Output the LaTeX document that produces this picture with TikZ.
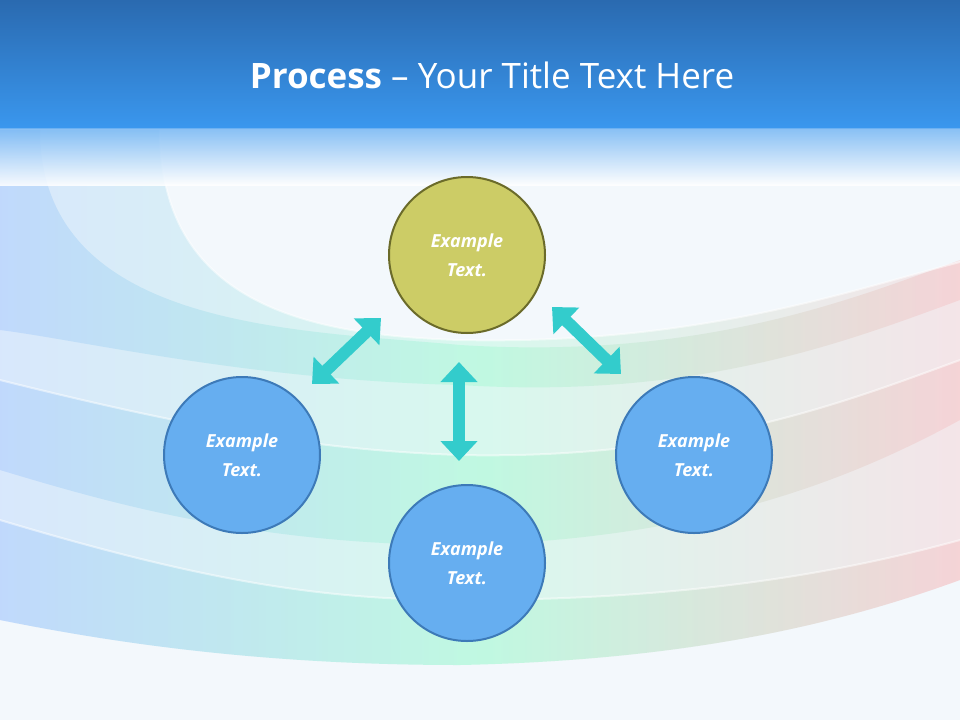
\documentclass[tikz,border=0pt]{standalone}
\usepackage{fontspec}
\setmainfont{Open Sans}
\usetikzlibrary{arrows.meta}
\definecolor{bar1}{HTML}{2A6AB0}
\definecolor{bar2}{HTML}{3A97EE}
\definecolor{bgc}{HTML}{F3F8FC}
\definecolor{olivef}{HTML}{CCCC66}
\definecolor{olived}{HTML}{6B6B2A}
\definecolor{bluef}{HTML}{66AEF0}
\definecolor{blued}{HTML}{3D7AB8}
\definecolor{teal}{HTML}{33CCCC}
\begin{document}
\begin{tikzpicture}[x=1pt,y=-1pt,
  circ/.style={circle,minimum size=156pt,line width=2pt,text=white,font=\bfseries\itshape\fontsize{18}{29}\selectfont,align=center},
  blue/.style={circ,fill=bluef,draw=blued},
  dbl/.style={draw=teal,line width=12pt,{Triangle[width=36pt,length=20pt]}-{Triangle[width=36pt,length=20pt]}},
  band/.style={left color=blue!60!cyan,right color=red!70,middle color=green!50!cyan,opacity=0.11},
  edge/.style={white,opacity=0.5,line width=2pt}]
\useasboundingbox (0,0) rectangle (960,720);
\fill[bgc] (0,0) rectangle (960,720);
% bands
\shade[band] (40,130) .. controls (40,330) and (300,330) .. (460,345) .. controls (700,360) and (850,300) .. (960,260)
 -- (960,420) .. controls (850,480) and (700,540) .. (460,545) .. controls (250,545) and (100,500) .. (0,470) -- (0,130) -- cycle;
\shade[band] (160,130) .. controls (160,300) and (300,335) .. (460,340) .. controls (700,345) and (850,290) .. (960,262)
 -- (960,300) .. controls (850,340) and (700,400) .. (460,385) .. controls (250,380) and (80,340) .. (0,330) -- (0,130) -- cycle;
\shade[band] (0,380) .. controls (200,430) and (320,450) .. (460,455) .. controls (700,460) and (850,400) .. (960,360)
 -- (960,580) .. controls (850,620) and (700,660) .. (460,665) .. controls (250,665) and (100,640) .. (0,620) -- cycle;
\shade[band] (0,520) .. controls (200,580) and (320,600) .. (460,600) .. controls (700,600) and (850,570) .. (960,540)
 -- (960,580) .. controls (850,620) and (700,660) .. (460,665) .. controls (250,665) and (100,640) .. (0,620) -- cycle;
\draw[edge] (160,130) .. controls (160,300) and (300,335) .. (460,340) .. controls (700,345) and (850,290) .. (960,262);
\draw[edge] (0,380) .. controls (200,430) and (320,450) .. (460,455) .. controls (700,460) and (850,400) .. (960,360);
\draw[edge] (0,520) .. controls (200,580) and (320,600) .. (460,600) .. controls (700,600) and (850,570) .. (960,540);
% title bar
\shade[top color=bar1,bottom color=bar2] (0,0) rectangle (960,128);
\shade[top color=bar2!70,bottom color=white,opacity=0.85] (0,128) rectangle (960,185);
\node[text=white,font=\fontsize{35}{40}\selectfont] (title) at (492,75) {\textbf{Process} – Your Title Text Here};
% circles
\node[circ,fill=olivef,draw=olived] (top) at (467,255) {Example\\Text.};
\node[blue] (left) at (242,455) {Example\\Text.};
\node[blue] (right) at (694,455) {Example\\Text.};
\node[blue] (bot) at (467,563) {Example\\Text.};
\coordinate (a1) at (381,318); \coordinate (a2) at (312,384);
\coordinate (b1) at (552,307); \coordinate (b2) at (621,374);
\coordinate (c1) at (459,362); \coordinate (c2) at (459,461);
\draw[dbl] (a1) -- (a2);
\draw[dbl] (b1) -- (b2);
\draw[dbl] (c1) -- (c2);
\end{tikzpicture}
\end{document}
